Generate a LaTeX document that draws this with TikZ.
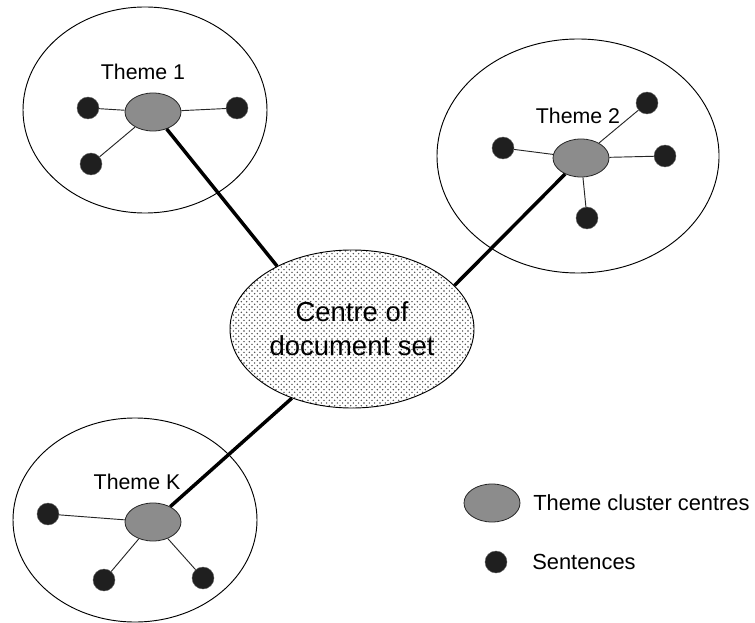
\documentclass[tikz,border=0pt]{standalone}
\usepackage{fontspec}
\setmainfont{Liberation Sans}
\usetikzlibrary{shapes.geometric,patterns}
% staggered grid of small dots for the centre of the document set
\pgfdeclarepatternformonly{stagdots}{\pgfqpoint{-1pt}{-1pt}}{\pgfqpoint{5pt}{5pt}}{\pgfqpoint{4pt}{4pt}}{%
  \pgfpathcircle{\pgfqpoint{1pt}{1pt}}{0.6pt}%
  \pgfpathcircle{\pgfqpoint{3pt}{3pt}}{0.6pt}%
  \pgfusepath{fill}}
\begin{document}
\begin{tikzpicture}[x=0.75pt,y=-0.75pt,
  group/.style={draw, ellipse, line width=0.7pt, inner sep=0pt},
  hub/.style={draw=black!85, ellipse, line width=0.6pt, fill=black!45,
    minimum width=42pt, minimum height=28.5pt, inner sep=0pt},
  sentence/.style={circle, fill=black!88, draw=black!60, line width=0.3pt,
    minimum size=16.5pt, inner sep=0pt},
  spoke/.style={line width=0.7pt, draw=black!85},
  link/.style={line width=2.6pt, line cap=butt},
  label/.style={font=\fontsize{16}{19}\selectfont, inner sep=0pt},
  legendtext/.style={font=\fontsize{16.4}{19}\selectfont, anchor=west, inner sep=0pt}
]
\useasboundingbox (0,0) rectangle (755,623);

% central node: the centre of the whole document set
\node[draw, ellipse, line width=0.7pt, inner sep=0pt,
      minimum width=183pt, minimum height=118.5pt,
      pattern=stagdots, pattern color=black!72, align=center,
      font=\fontsize{20.6}{25.5}\selectfont] (centre) at (352,329) {Centre of\\document set};

% theme 1
\node[group, minimum width=183pt, minimum height=154.5pt] (g1) at (145,110) {};
\node[label] (t1) at (143,72) {Theme 1};
\node[hub] (c1) at (153,112) {};
\node[sentence] (s11) at (88,108) {};
\node[sentence] (s12) at (237,108) {};
\node[sentence] (s13) at (91,164) {};
\draw[spoke] (c1) -- (s11);
\draw[spoke] (c1) -- (s12);
\draw[spoke] (c1) -- (s13);

% theme 2
\node[group, minimum width=211.5pt, minimum height=175.5pt] (g2) at (578,156) {};
\node[label] (t2) at (578,116) {Theme 2};
\node[hub] (c2) at (581,158) {};
\node[sentence] (s21) at (503,148) {};
\node[sentence] (s22) at (647,103) {};
\node[sentence] (s23) at (665,156) {};
\node[sentence] (s24) at (587,218) {};
\draw[spoke] (c2) -- (s21);
\draw[spoke] (c2) -- (s22);
\draw[spoke] (c2) -- (s23);
\draw[spoke] (c2) -- (s24);

% theme K
\node[group, minimum width=183pt, minimum height=153pt] (gK) at (135,520) {};
\node[label] (tK) at (137,482) {Theme K};
\node[hub] (cK) at (153,522) {};
\node[sentence] (sK1) at (48,514) {};
\node[sentence] (sK2) at (104,580) {};
\node[sentence] (sK3) at (203,578) {};
\draw[spoke] (cK) -- (sK1);
\draw[spoke] (cK) -- (sK2);
\draw[spoke] (cK) -- (sK3);

% links from the cluster centres to the centre of the set
\draw[link] (c1) -- (centre.140);
\draw[link] (c2) -- (centre.23);
\draw[link] (cK) -- (centre.229);

% legend
\node[hub] (lhub) at (492,503) {};
\node[legendtext] (lhubtext) at (533,503) {Theme cluster centres};
\node[sentence] (lsent) at (496,562) {};
\node[legendtext] (lsenttext) at (532,562) {Sentences};
\end{tikzpicture}
\end{document}
